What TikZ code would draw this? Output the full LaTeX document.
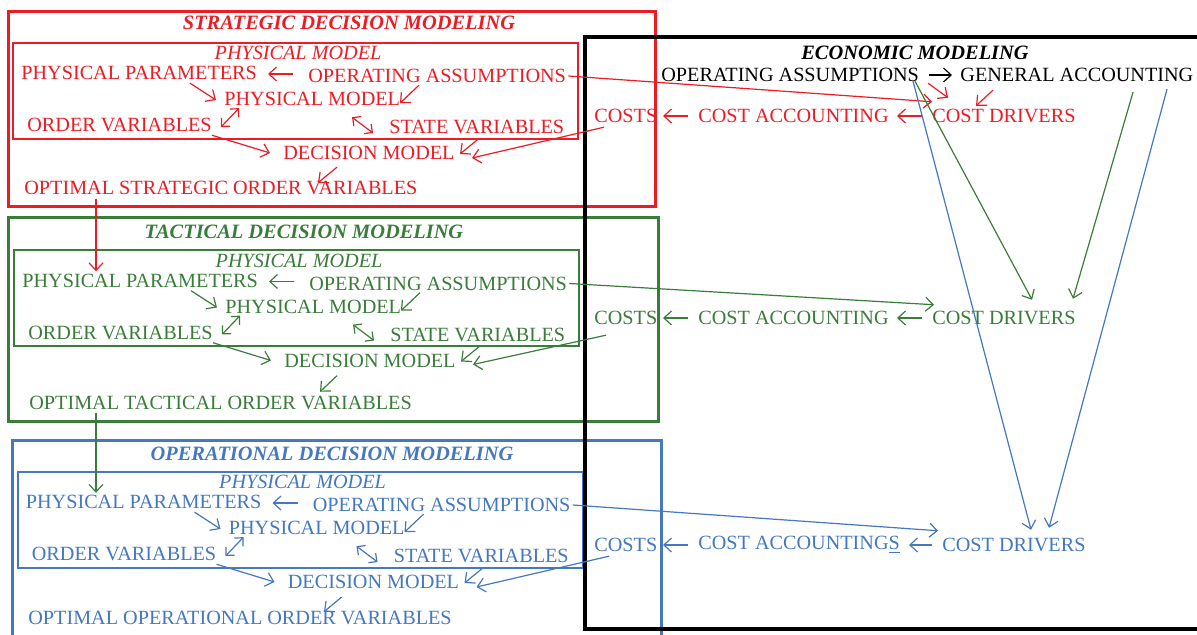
\documentclass[tikz,border=0pt]{standalone}
\usepackage{fontspec}
\setmainfont{Liberation Serif}
\usetikzlibrary{arrows.meta,calc}
\definecolor{cred}{RGB}{237,28,36}
\definecolor{cgreen}{RGB}{58,125,58}
\definecolor{cblue}{RGB}{68,120,192}
\tikzset{
 txt/.style={anchor=west, inner sep=0pt, font=\fontsize{10.1}{12}\selectfont},
 ttl/.style={inner sep=0pt, font=\fontsize{10.2}{12}\selectfont\bfseries\itshape},
 sub/.style={inner sep=0pt, font=\fontsize{10.1}{12}\selectfont\itshape},
 arr/.style={-{Straight Barb[length=3.8pt,width=7pt]}, line width=0.6pt},
 darr/.style={{Straight Barb[length=3pt,width=6pt]}-{Straight Barb[length=3pt,width=6pt]}, line width=0.6pt},
 outerbox/.style={line width=1.5pt},
 innerbox/.style={line width=1pt},
 blackbox/.style={line width=2.2pt},
}
% #1 prefix, #2 colour, #3 dx, #4 dy
\newcommand\PhysBlock[4]{%
 \draw[innerbox,#2] ({13+#3},{43+#4}) rectangle ({578+#3},{139+#4});
 \node[sub,#2] (#1sub) at ({298+#3},{53+#4}) {PHYSICAL MODEL};
 \node[txt,#2] (#1pp) at ({21+#3},{73+#4}) {PHYSICAL PARAMETERS};
 \node[txt,#2] (#1oa) at ({308+#3},{76+#4}) {OPERATING ASSUMPTIONS};
 \node[txt,#2] (#1pm) at ({224+#3},{99+#4}) {PHYSICAL MODEL};
 \node[txt,#2] (#1ov) at ({27+#3},{125+#4}) {ORDER VARIABLES};
 \node[txt,#2] (#1sv) at ({389+#3},{127+#4}) {STATE VARIABLES};
 \node[txt,#2] (#1dm) at ({283+#3},{153+#4}) {DECISION MODEL};
 \draw[arr,#2] ($(#1oa.west)+(-15,-2)$) -- ($(#1pp.west)+(247,1)$);
 \draw[arr,#2] ($(#1pp.south west)+(169,3)$) -- ($(#1pm.west)+(-8,1)$);
 \draw[arr,#2] ($(#1oa.south west)+(111,2)$) -- ($(#1pm.south west)+(176,-3)$);
 \draw[darr,#2] ($(#1ov.west)+(194,2)$) -- ($(#1pm.south west)+(15,2)$);
 \draw[darr,#2] ($(#1pm.south west)+(128,11)$) -- ($(#1sv.west)+(-16,6)$);
 \draw[arr,#2] ($(#1ov.south west)+(185,3)$) -- ($(#1dm.west)+(-13,0)$);
 \draw[arr,#2] ($(#1sv.south west)+(89,5)$) -- ($(#1dm.west)+(177,1)$);
}
\begin{document}
\begin{tikzpicture}[x=0.5pt,y=-0.5pt]
\useasboundingbox (0,0) rectangle (1197,635);
\fill[white] (0,0) rectangle (1197,635);

% ---------- strategic (red) ----------
\draw[outerbox,cred] (8,12) rectangle (655,207);
\node[ttl,cred] (rt) at (349,23) {STRATEGIC DECISION MODELING};
\PhysBlock{r}{cred}{0}{0}
\node[txt,cred] (ropt) at (24,188) {OPTIMAL STRATEGIC ORDER VARIABLES};
\draw[arr,cred] ($(rdm.south west)+(54,7)$) -- ($(ropt.north west)+(294,2)$);

% ---------- tactical (green) ----------
\draw[outerbox,cgreen] (8,218) rectangle (658,421);
\node[ttl,cgreen] (gt) at (304,232) {TACTICAL DECISION MODELING};
\PhysBlock{g}{cgreen}{1}{207.5}
\node[txt,cgreen] (gopt) at (29,403) {OPTIMAL TACTICAL ORDER VARIABLES};
\draw[arr,cgreen] ($(gdm.south west)+(53,8)$) -- ($(gopt.north west)+(291,-4)$);

% ---------- operational (blue) ----------
\draw[outerbox,cblue] (12,645) -- (12,440) -- (661,440) -- (661,645);
\node[ttl,cblue] (bt) at (332,454) {OPERATIONAL DECISION MODELING};
\PhysBlock{b}{cblue}{4.5}{429}
\node[txt,cblue] (bopt) at (28,618) {OPTIMAL OPERATIONAL ORDER VARIABLES};
\draw[arr,cblue] ($(bdm.south west)+(54,8)$) -- ($(bopt.north west)+(296,1)$);

% level-to-level arrows
\draw[arr,cred] ($(ropt.south west)+(72,4)$) -- ($(gpp.north west)+(74,-2)$);
\draw[arr,cgreen] ($(gopt.south west)+(67,3)$) -- ($(bpp.north west)+(70.5,-2)$);

% ---------- economic modeling ----------
\draw[blackbox] (1205,37) -- (585,37) -- (585,629) -- (1205,629);
\node[ttl] (et) at (915,53) {ECONOMIC MODELING};
\node[txt] (eoa) at (661,75) {OPERATING ASSUMPTIONS};
\node[txt] (ega) at (960,75) {GENERAL ACCOUNTING};
\draw[arr] ($(eoa.west)+(268,0)$) -- ($(ega.west)+(-8,0)$);

% red row
\node[txt,cred] (rcs) at (594,116) {COSTS};
\node[txt,cred] (rca) at (698,116) {COST ACCOUNTING};
\node[txt,cred] (rcd) at (932,116) {COST DRIVERS};
\draw[arr,cred] ($(rca.west)+(-10,0)$) -- ($(rcs.west)+(69,0)$);
\draw[arr,cred] ($(rcd.west)+(-10,0)$) -- ($(rca.west)+(199,0)$);
\draw[arr,cred] ($(eoa.south west)+(267,1)$) -- ($(rcd.north west)+(16,-11)$);
\draw[arr,cred] ($(ega.south west)+(33,8)$) -- ($(rcd.north west)+(44,-3)$);
\draw[arr,cred] ($(roa.east)+(2,0)$) -- ($(rcd.north west)+(0,-7)$);
\draw[arr,cred] ($(rcs.south west)+(10,4)$) -- ($(rdm.west)+(189,5)$);

% green row
\node[txt,cgreen] (gcs) at (594,318) {COSTS};
\node[txt,cgreen] (gca) at (698,318) {COST ACCOUNTING};
\node[txt,cgreen] (gcd) at (932,318) {COST DRIVERS};
\draw[arr,cgreen] ($(gca.west)+(-10,0)$) -- ($(gcs.west)+(69,0)$);
\draw[arr,cgreen] ($(gcd.west)+(-10,0)$) -- ($(gca.west)+(199,0)$);
\draw[arr,cgreen] ($(goa.east)+(2,0)$) -- ($(gcd.north west)+(2,-6)$);
\draw[arr,cgreen] ($(gcs.south west)+(12,10)$) -- ($(gdm.west)+(189,4)$);
\draw[arr,cgreen] ($(eoa.south west)+(254,-1)$) -- ($(gcd.north west)+(100,-11)$);
\draw[arr,cgreen] ($(ega.south west)+(173,10)$) -- ($(gcd.north west)+(141,-12)$);

% blue row
\node[txt,cblue] (bcs) at (594,545) {COSTS};
\node[txt,cblue] (bca) at (698,545) {COST ACCOUNTING\underline{S}};
\node[txt,cblue] (bcd) at (942,545) {COST DRIVERS};
\draw[arr,cblue] ($(bca.west)+(-10,0)$) -- ($(bcs.west)+(69,0)$);
\draw[arr,cblue] ($(bcd.west)+(-10,0)$) -- ($(bca.west)+(211,0)$);
\draw[arr,cblue] ($(boa.east)+(2,0)$) -- ($(bcd.north west)+(-4,-7)$);
\draw[arr,cblue] ($(bcs.south west)+(15,4)$) -- ($(bdm.west)+(189,5)$);
\draw[arr,cblue] ($(eoa.south west)+(252,-1)$) -- ($(bcd.north west)+(89,-8)$);
\draw[arr,cblue] ($(ega.south west)+(207,7)$) -- ($(bcd.north west)+(107,-10)$);
\end{tikzpicture}
\end{document}
